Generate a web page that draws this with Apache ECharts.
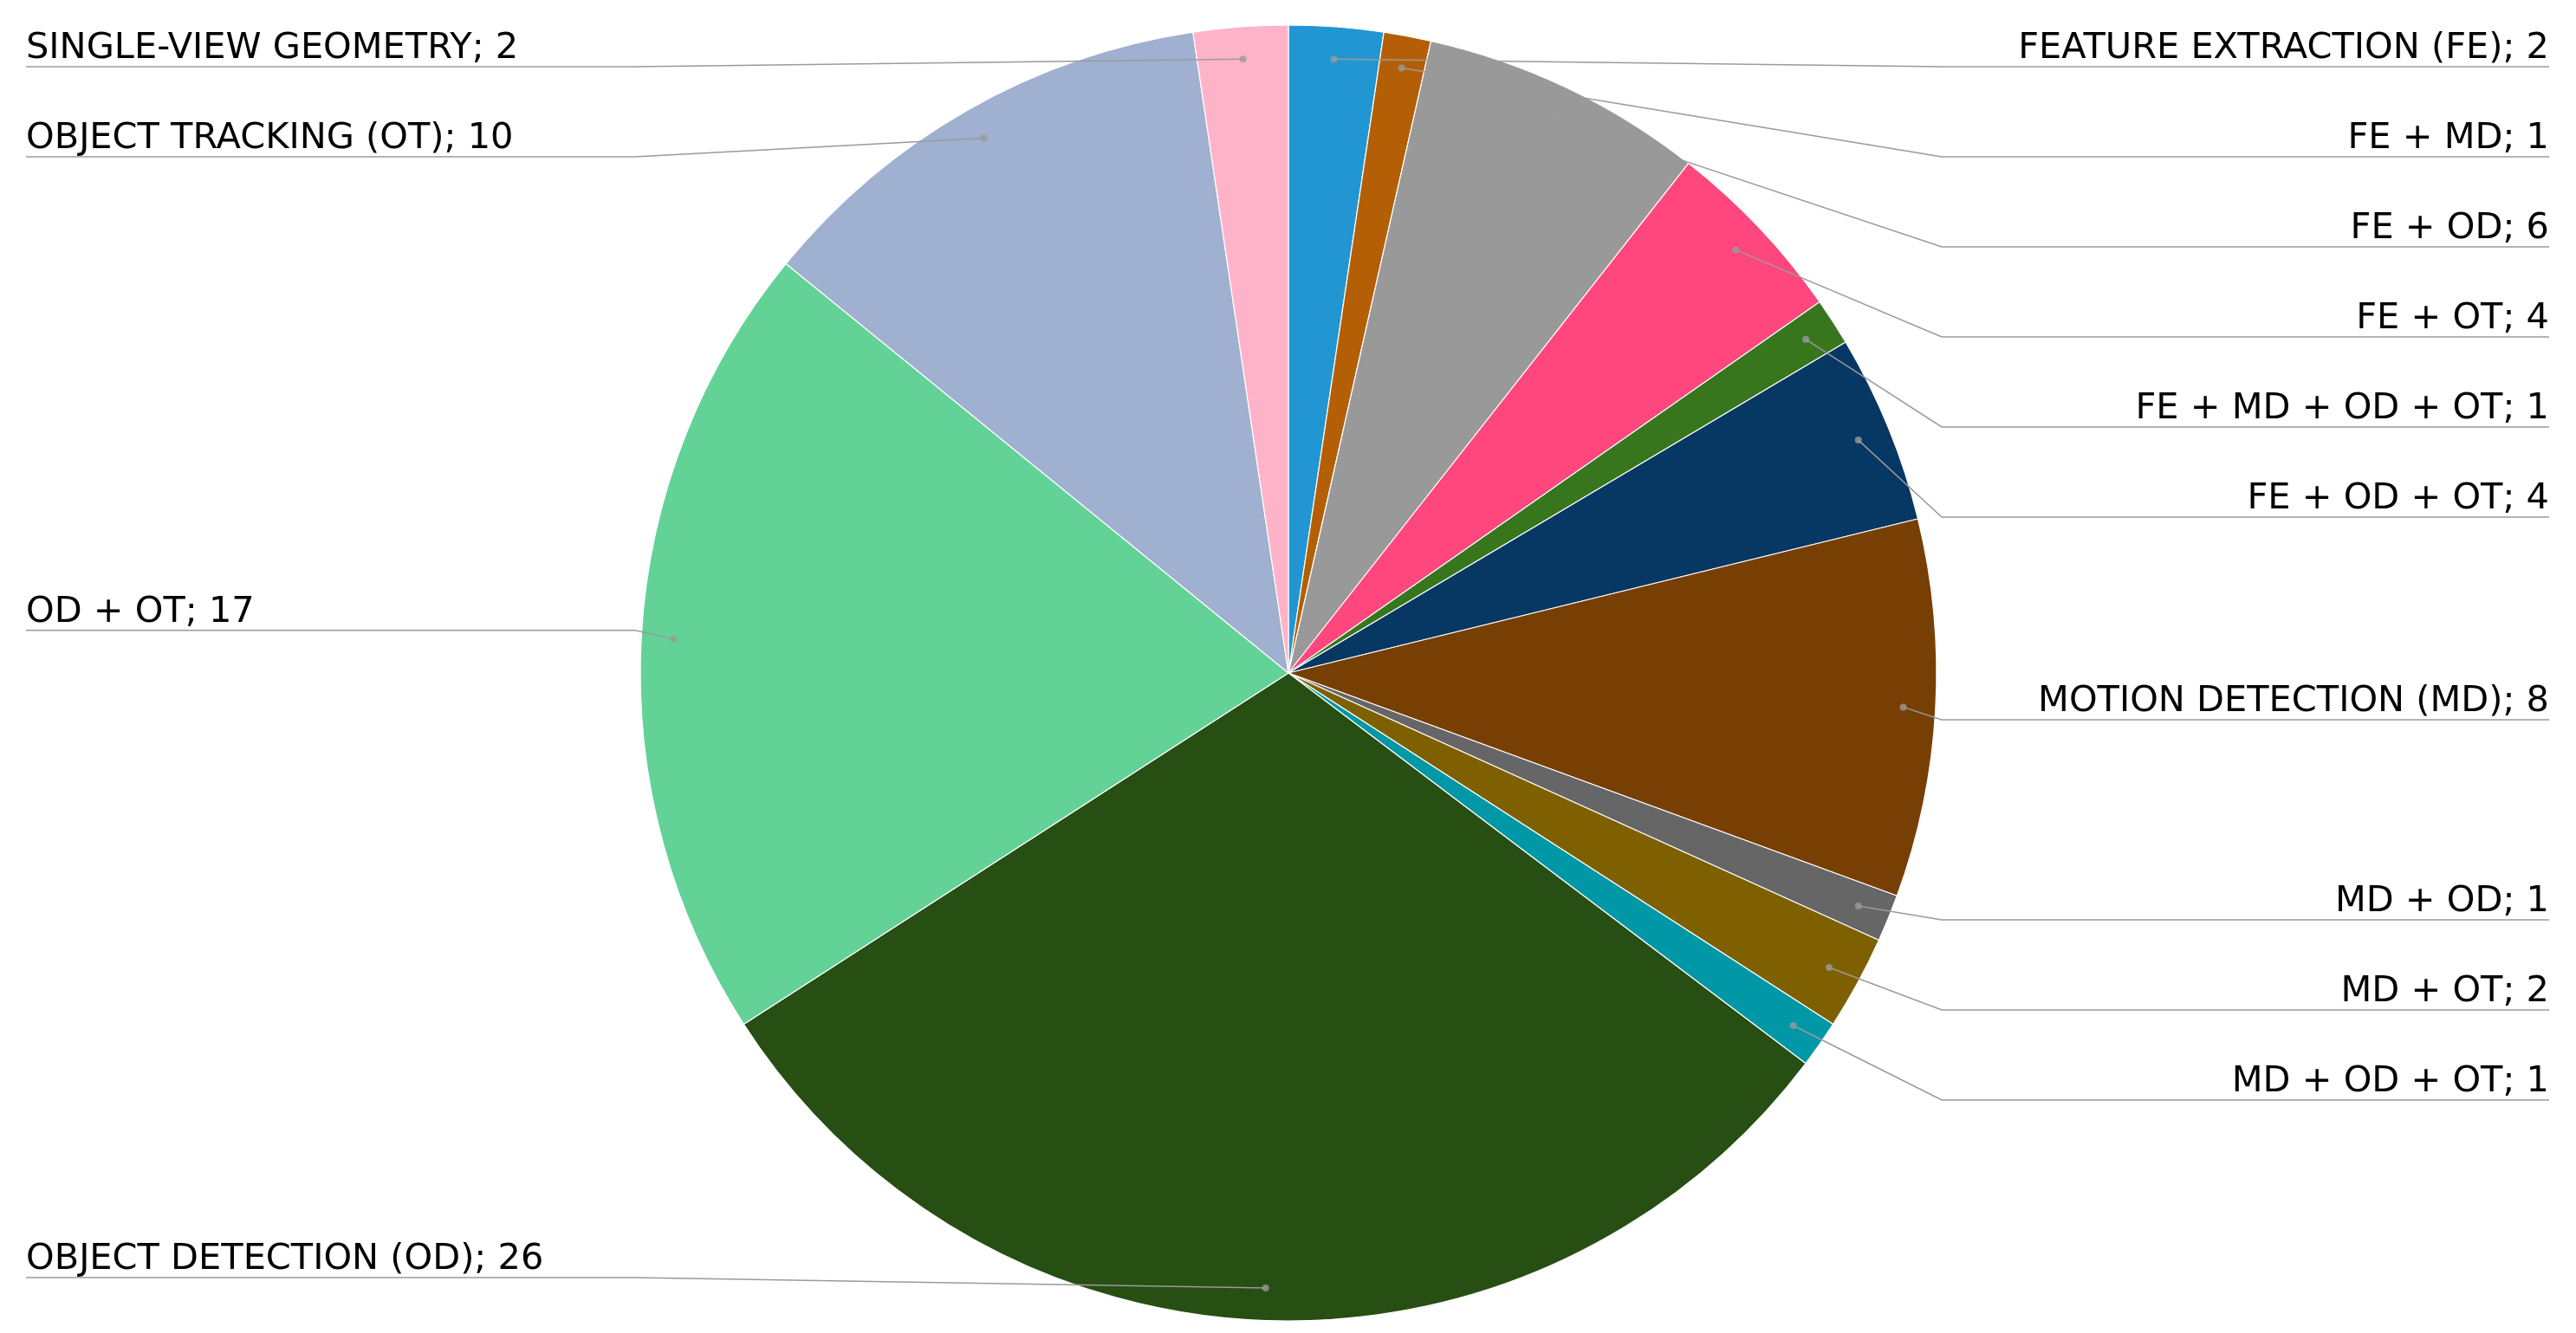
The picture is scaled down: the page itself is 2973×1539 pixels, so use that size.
<!DOCTYPE html>
<html>
<head>
<meta charset="utf-8">
<script src="https://cdn.jsdelivr.net/npm/echarts@6/dist/echarts.min.js"></script>
<style>
  html, body { margin: 0; padding: 0; background: #fff; }
  #main { width: 2973px; height: 1539px; }
</style>
</head>
<body>
<div id="main"></div>
<script>
// data, clockwise from 12 o'clock
var categories = [
    'FEATURE EXTRACTION (FE)', 'FE + MD', 'FE + OD', 'FE + OT', 'FE + MD + OD + OT',
    'FE + OD + OT', 'MOTION DETECTION (MD)', 'MD + OD', 'MD + OT', 'MD + OD + OT',
    'OBJECT DETECTION (OD)', 'OD + OT', 'OBJECT TRACKING (OT)', 'SINGLE-VIEW GEOMETRY'
];
var counts = [2, 1, 6, 4, 1, 4, 8, 1, 2, 1, 26, 17, 10, 2];
var colors = [
    '#2196d3', '#b45f06', '#999999', '#ff477e', '#38761d',
    '#073763', '#783f04', '#666666', '#7f6000', '#0097a7',
    '#274e13', '#63d297', '#9fb0d0', '#ffb3c9'
];

var PIE_CX = 1487, PIE_CY = 777, PIE_R = 748;
var VIEW_LEFT = 10, VIEW_RIGHT = 11, VIEW_TOP = 25, VIEW_BOTTOM = 12;
var DOT_POS = 0.95;
var TEXT_LIFT = 21;   // text sits this far above its leader line

var myChart = echarts.init(document.getElementById('main'));

var pieData = [];
var labelData = [];
var total = 0;
for (var i = 0; i < categories.length; i++) {
    pieData.push({ name: categories[i], value: counts[i], itemStyle: { color: colors[i] } });
    labelData.push({ name: categories[i], value: counts[i] });
    total += counts[i];
}
// little dots where the leader lines start
var dotData = [];
var acc = 0;
for (var j = 0; j < counts.length; j++) {
    dotData.push([DOT_POS, acc + counts[j] / 2]);
    acc += counts[j];
}

var pieBase = {
    type: 'pie',
    left: VIEW_LEFT, top: VIEW_TOP, right: VIEW_RIGHT, bottom: VIEW_BOTTOM,
    center: [PIE_CX - VIEW_LEFT, PIE_CY - VIEW_TOP],
    radius: PIE_R,
    startAngle: 90,
    clockwise: true,
    emphasis: { disabled: true }
};

var option = {
    backgroundColor: '#fff',
    animation: false,
    polar: { center: [PIE_CX, PIE_CY], radius: PIE_R },
    angleAxis: { type: 'value', min: 0, max: total, startAngle: 90, clockwise: true, show: false },
    radiusAxis: { type: 'value', min: 0, max: 1, show: false },
    series: [
        // coloured slices
        echarts.util.merge({
            z: 2,
            itemStyle: { borderColor: '#ffffff', borderWidth: 1.2 },
            label: { show: false },
            labelLine: { show: false },
            data: pieData
        }, pieBase),
        // transparent copy on top that carries labels and leader lines
        echarts.util.merge({
            z: 3,
            silent: true,
            avoidLabelOverlap: true,
            itemStyle: { color: 'rgba(0,0,0,0)', borderWidth: 0 },
            label: {
                show: true,
                position: 'outside',
                alignTo: 'edge',
                edgeDistance: 20,
                formatter: '{b}; {c}',
                color: '#000',
                fontFamily: 'DejaVu Sans',
                fontSize: 41.5,
                lineHeight: 54,
                padding: [24, 0, 24, 0]
            },
            labelLine: {
                show: true,
                length: 5,
                length2: 5,
                smooth: false,
                lineStyle: { color: '#9a9a9a', width: 1.5 }
            },
            labelLayout: function (p) {
                var pts = p.labelLinePoints;
                if (!pts) return {};
                var dx = pts[0][0] - PIE_CX, dy = pts[0][1] - PIE_CY;
                var d = Math.sqrt(dx * dx + dy * dy) || 1;
                var start = [PIE_CX + dx / d * PIE_R * DOT_POS, PIE_CY + dy / d * PIE_R * DOT_POS];
                var rect = p.labelRect;
                var lineY = rect.y + rect.height / 2;
                var right = dx >= 0;
                var elbowX = right ? PIE_CX + PIE_R + 6 : PIE_CX - PIE_R - 6;
                var endX = right ? rect.x + rect.width : rect.x;
                return {
                    dy: -TEXT_LIFT,
                    labelLinePoints: [start, [elbowX, lineY], [endX, lineY]]
                };
            },
            data: labelData
        }, pieBase),
        {
            type: 'scatter',
            coordinateSystem: 'polar',
            symbol: 'circle',
            symbolSize: 8,
            silent: true,
            z: 5,
            itemStyle: { color: '#9a9a9a' },
            data: dotData
        }
    ]
};
myChart.setOption(option);
</script>
</body>
</html>
